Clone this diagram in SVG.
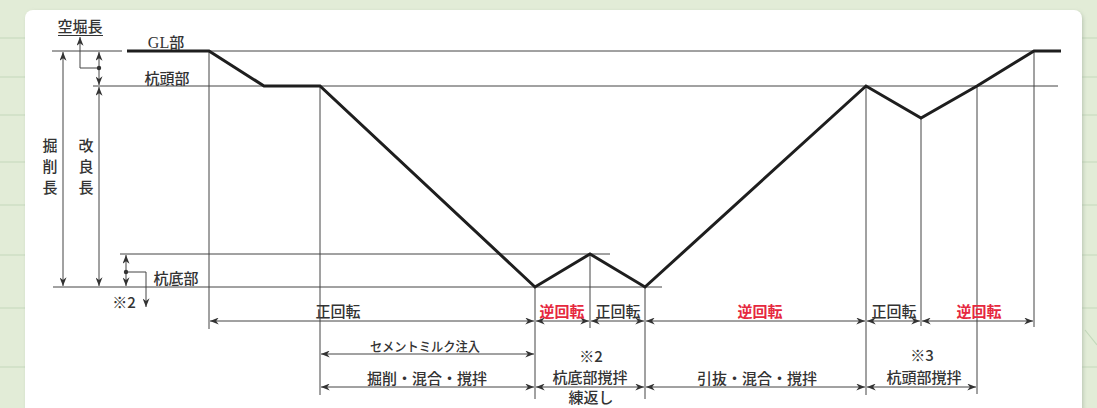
<svg xmlns="http://www.w3.org/2000/svg" width="1097" height="408" viewBox="0 0 1097 408">
<defs>
<marker id="ah" viewBox="0 0 10 8" refX="10" refY="4" markerWidth="10" markerHeight="7" markerUnits="userSpaceOnUse" orient="auto-start-reverse">
<path d="M0,0 L10,4 L0,8 L3,4 Z" fill="#333"/>
</marker>
<filter id="sh" x="-5%" y="-5%" width="110%" height="110%">
<feGaussianBlur stdDeviation="2"/>
</filter>
</defs>
<style>
.t{font-family:"Noto Sans CJK JP","Liberation Sans",sans-serif;font-size:15px;font-weight:500;fill:#333;text-anchor:middle}
.r{fill:#e6283e;font-weight:700}
.thin{stroke:#444;stroke-width:1;fill:none}
.dim{stroke:#444;stroke-width:1;fill:none;marker-start:url(#ah);marker-end:url(#ah)}
.one{stroke:#444;stroke-width:1;fill:none;marker-end:url(#ah)}
.prof{stroke:#1e1e1e;stroke-width:3;fill:none;stroke-linejoin:miter}
.grid{stroke:#c3d8bb;stroke-width:1.2}
</style>
<g id="background">
<rect x="0" y="0" width="1097" height="408" fill="#e2ecd7"/>
<g class="grid">
<line x1="0" y1="38" x2="1097" y2="38"/>
<line x1="0" y1="77" x2="1097" y2="77"/>
<line x1="0" y1="115" x2="1097" y2="115"/>
<line x1="0" y1="162" x2="1097" y2="162"/>
<line x1="0" y1="205" x2="1097" y2="205"/>
<line x1="0" y1="255" x2="1097" y2="255"/>
<line x1="0" y1="308" x2="1097" y2="308"/>
<line x1="0" y1="367" x2="1097" y2="367"/>
<line x1="1085" y1="330" x2="1097" y2="345"/>
</g>
<rect x="27" y="12" width="1056" height="410" rx="8" fill="#9aa896" opacity="0.6" filter="url(#sh)"/>
<rect x="25" y="10" width="1057" height="410" rx="8" fill="#ffffff"/>
</g>
<g id="guides" class="thin">
<line x1="52" y1="51" x2="122" y2="51"/>
<line x1="209" y1="51" x2="1060" y2="51"/>
<line x1="93" y1="86" x2="1058" y2="86"/>
<line x1="120" y1="254" x2="610" y2="254"/>
<line x1="53" y1="287" x2="662" y2="287"/>
<line x1="209" y1="51" x2="209" y2="329"/>
<line x1="320" y1="86" x2="320" y2="395"/>
<line x1="535" y1="287" x2="535" y2="399"/>
<line x1="590" y1="254" x2="590" y2="328"/>
<line x1="645" y1="287" x2="645" y2="399"/>
<line x1="866" y1="86" x2="866" y2="395"/>
<line x1="921" y1="118" x2="921" y2="326"/>
<line x1="977" y1="86" x2="977" y2="394"/>
<line x1="1034" y1="51" x2="1034" y2="327"/>
</g>
<g id="profile">
<polyline class="prof" points="127,51 209,51 264,86 320,86 535,287 590,254 645,287 866,86 921,118 977,86 1034,51 1061,51"/>
</g>
<g id="left-dimensions">
<line class="dim" x1="63" y1="52" x2="63" y2="286"/>
<line class="dim" x1="99" y1="52" x2="99" y2="85"/>
<line class="dim" x1="99" y1="87" x2="99" y2="286"/>
<polyline class="one" points="99,68 80,68 80,37"/>
<circle cx="99" cy="68" r="2.2" fill="#333"/>
<line class="dim" x1="126" y1="255" x2="126" y2="286"/>
<polyline class="one" points="126,272 146,272 146,307"/>
<circle cx="126" cy="272" r="2.2" fill="#333"/>
<text class="t" x="80" y="32">空堀長</text>
<line x1="58" y1="35.5" x2="103" y2="35.5" stroke="#333" stroke-width="1"/>
<text class="t" x="50" y="151">掘</text>
<text class="t" x="50" y="172">削</text>
<text class="t" x="50" y="193">長</text>
<text class="t" x="86" y="151">改</text>
<text class="t" x="86" y="172">良</text>
<text class="t" x="86" y="193">長</text>
</g>
<g id="level-labels">
<text class="t" x="166" y="48" style="font-family:'Liberation Serif','Noto Sans CJK JP',serif;font-size:16px">GL<tspan style="font-family:'Noto Sans CJK JP',sans-serif;font-size:15px">部</tspan></text>
<text class="t" x="167" y="84">杭頭部</text>
<text class="t" x="176" y="284">杭底部</text>
<text class="t" x="124" y="308">※2</text>
</g>
<g id="connectors">
<line class="dim" x1="210" y1="321" x2="534" y2="321"/>
<line class="dim" x1="536" y1="321" x2="589" y2="321"/>
<line class="dim" x1="591" y1="321" x2="644" y2="321"/>
<line class="dim" x1="646" y1="321" x2="865" y2="321"/>
<line class="dim" x1="867" y1="321" x2="920" y2="321"/>
<line class="dim" x1="922" y1="321" x2="1033" y2="321"/>
<line class="dim" x1="321" y1="354" x2="534" y2="354"/>
<line class="dim" x1="321" y1="387" x2="534" y2="387"/>
<line class="dim" x1="536" y1="387" x2="644" y2="387"/>
<line class="dim" x1="646" y1="387" x2="865" y2="387"/>
<line class="dim" x1="867" y1="387" x2="976" y2="387"/>
</g>
<g id="phase-labels">
<text class="t" x="338" y="317">正回転</text>
<text class="t r" x="562" y="317">逆回転</text>
<text class="t" x="618" y="317">正回転</text>
<text class="t r" x="760" y="317">逆回転</text>
<text class="t" x="894" y="317">正回転</text>
<text class="t r" x="979" y="317">逆回転</text>
<text class="t" x="425" y="351" style="font-size:13px" textLength="110" lengthAdjust="spacingAndGlyphs">セメントミルク注入</text>
<text class="t" x="427" y="384">掘削・混合・撹拌</text>
<text class="t" x="591" y="362">※2</text>
<text class="t" x="590" y="383">杭底部撹拌</text>
<text class="t" x="591" y="403">練返し</text>
<text class="t" x="757" y="384">引抜・混合・撹拌</text>
<text class="t" x="922" y="361">※3</text>
<text class="t" x="924" y="383">杭頭部撹拌</text>
</g>
</svg>
